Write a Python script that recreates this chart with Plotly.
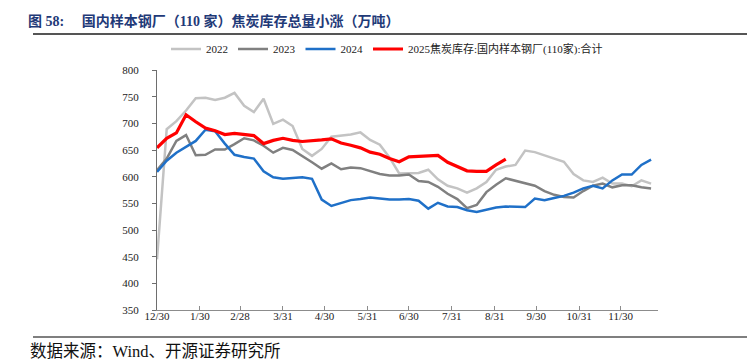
import plotly.graph_objects as go

# ---- data (weekly readings, x = days from 12/30) ----
s2022 = [445, 689, 704, 724, 747, 748, 744, 748, 757, 733, 721, 746, 699, 707, 695, 652,
         639, 652, 675, 677, 679, 683, 669, 660, 636, 606, 607, 607, 613, 595, 583, 578,
         570, 578, 590, 613, 619, 622, 649, 646, 640, 634, 628, 605, 593, 590, 598, 587,
         587, 582, 593, 587]
s2023 = [612, 634, 667, 678, 640, 641, 651, 651, 661, 672, 668, 658, 645, 654, 650, 639,
         627, 615, 625, 614, 617, 616, 611, 605, 602, 602, 604, 592, 590, 581, 568, 558,
         541, 547, 571, 585, 597, 592, 588, 583, 573, 566, 562, 561, 573, 583, 587, 580,
         584, 584, 580, 578]
s2024 = [609, 630, 645, 656, 667, 688, 685, 662, 641, 637, 634, 610, 599, 596, 597, 599,
         596, 557, 545, 550, 556, 558, 561, 559, 557, 557, 558, 555, 540, 551, 544, 543,
         537, 534, 538, 542, 544, 544, 543, 559, 556, 560, 564, 570, 578, 583, 578, 593,
         604, 604, 622, 632]
s2025 = [654, 672, 682, 716, 703, 691, 686, 679, 681, 679, 677, 662, 668, 672, 668, 666,
         667, 669, 671, 663, 659, 654, 646, 642, 634, 628, 637, 638, 639, 640, 627, 619,
         611, 610, 610, 622, 633]

tick_days = [0, 31, 60, 91, 121, 152, 182, 213, 244, 274, 305, 335]
tick_text = ["12/30", "1/30", "2/28", "3/31", "4/30", "5/31", "6/30", "7/31", "8/31",
             "9/30", "10/31", "11/30"]
y_ticks = [350, 400, 450, 500, 550, 600, 650, 700, 750, 800]

names = ["2022", "2023", "2024", "2025焦炭库存:国内样本钢厂(110家):合计"]
colors = ["#C3C3C3", "#808080", "#1F70C8", "#FF0000"]
widths = [2.5, 2.5, 2.5, 3.2]

# ---- layout geometry ----
W, H = 755, 364
L, R, T, B = 149, 105, 62, 62
PW, PH = W - L - R, H - T - B


def px(x):
    return (x - L) / PW


def py(y):
    return (H - B - y) / PH


fig = go.Figure()
for name, vals, c, w in zip(names, [s2022, s2023, s2024, s2025], colors, widths):
    xs = [7 * i for i in range(len(vals))]
    fig.add_trace(go.Scatter(x=xs, y=vals, mode="lines", name=name,
                             line=dict(color=c, width=w), hoverinfo="skip"))

serif = "Liberation Serif, Noto Sans CJK SC, serif"

fig.update_layout(
    width=W, height=H,
    margin=dict(l=L, r=R, t=T, b=B),
    paper_bgcolor="white", plot_bgcolor="white",
    showlegend=True,
    legend=dict(orientation="h", x=px(158), y=py(41), xanchor="left", yanchor="middle",
                font=dict(family=serif, size=11, color="#222"),
                bgcolor="rgba(0,0,0,0)", itemwidth=30, tracegroupgap=0),
    title=dict(text="<b>图 58:\u00a0\u00a0\u00a0\u00a0\u00a0国内样本钢厂（110 家）焦炭库存总量小涨（万吨）</b>",
               x=20 / W, y=1 - 13 / H, xref="container", yref="container",
               xanchor="left", yanchor="middle",
               font=dict(family="Liberation Serif, Noto Sans CJK SC", size=14, color="#1F3A78")),
    xaxis=dict(range=[0, 362], tickmode="array", tickvals=tick_days, ticktext=tick_text,
               showgrid=False, zeroline=False, showline=True, linecolor="#8C8C8C",
               linewidth=1.2, ticks="inside", ticklen=4, tickcolor="#8C8C8C",
               ticklabelstandoff=-4,
               tickfont=dict(family=serif, size=11, color="#222")),
    yaxis=dict(range=[350, 800], tickmode="array", tickvals=y_ticks,
               showgrid=False, zeroline=False, showline=True, linecolor="#6E6E6E",
               linewidth=1.2, ticks="outside", ticklen=4, tickcolor="#6E6E6E",
               ticklabelstandoff=11,
               tickfont=dict(family=serif, size=11, color="#222")),
    shapes=[
        dict(type="line", xref="paper", yref="paper", x0=px(25), x1=px(745),
             y0=py(26), y1=py(26), line=dict(color="#555555", width=2)),
        dict(type="line", xref="paper", yref="paper", x0=px(25), x1=px(745),
             y0=py(329), y1=py(329), line=dict(color="#555555", width=1.5)),
    ],
    annotations=[
        dict(text="数据来源：Wind、开源证券研究所", xref="paper", yref="paper",
             x=px(20), y=py(343), xanchor="left", yanchor="middle", showarrow=False,
             font=dict(family=serif, size=16.5, color="#111")),
    ],
)

fig.write_html("out.html")
